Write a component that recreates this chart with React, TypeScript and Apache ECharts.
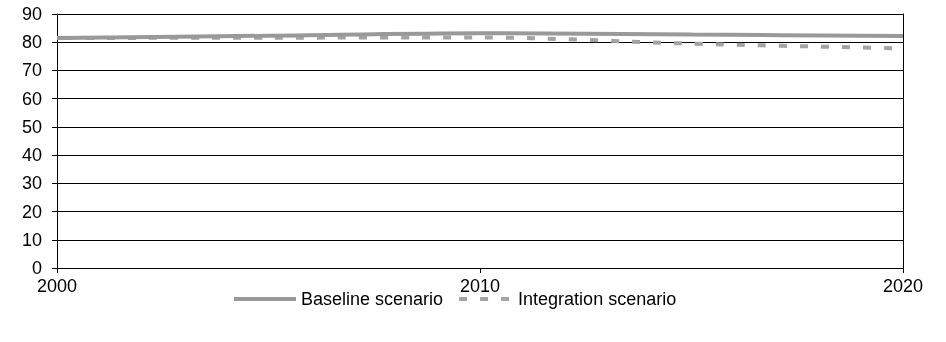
import React, { useEffect, useRef } from "react";
import * as echarts from "echarts";

const years = [2000, 2005, 2010, 2015, 2020];
const baselineValues = [81.5, 82.3, 83.2, 82.7, 82.2];
const integrationValues = [81.5, 81.6, 81.7, 79.5, 77.8];
const seriesNames = ["Baseline scenario", "Integration scenario"];

const FONT = "Liberation Sans, Arial, sans-serif";
const FS = 18;

export default function App() {
  const ref = useRef<HTMLDivElement>(null);
  useEffect(() => {
    if (!ref.current) return;
    const chart = echarts.init(ref.current, undefined, { renderer: "svg" });
    chart.setOption({
      animation: false,
      textStyle: { fontFamily: FONT },
      grid: { left: 57, right: 43, top: 14, bottom: 74 },
      legend: {
        bottom: 29,
        left: 227,
        itemWidth: 62,
        itemHeight: 14,
        itemGap: 6,
        itemStyle: { opacity: 0 },
        lineStyle: { width: 4 },
        textStyle: { fontFamily: FONT, fontSize: FS, color: "#000" },
        data: seriesNames,
      },
      xAxis: {
        type: "value",
        min: 2000,
        max: 2020,
        interval: 10,
        axisLine: { show: true, lineStyle: { color: "#000", width: 1 } },
        axisTick: { show: true, length: 5, lineStyle: { color: "#000" } },
        axisLabel: {
          fontFamily: FONT,
          fontSize: FS,
          lineHeight: 14,
          color: "#000",
          margin: 11,
          formatter: (v: number) => String(v),
        },
        splitLine: { show: false },
      },
      yAxis: [
        {
          type: "value",
          min: 0,
          max: 90,
          interval: 10,
          axisLine: { show: true, lineStyle: { color: "#000", width: 1 } },
          axisTick: { show: true, length: 5, lineStyle: { color: "#000" } },
          axisLabel: { fontFamily: FONT, fontSize: FS, lineHeight: 14, color: "#000", margin: 15 },
          splitLine: { show: true, lineStyle: { color: "#000", width: 1 } },
        },
        {
          type: "value",
          position: "right",
          min: 0,
          max: 90,
          interval: 10,
          axisLine: { show: true, lineStyle: { color: "#000", width: 1 } },
          axisTick: { show: false },
          axisLabel: { show: false },
          splitLine: { show: false },
        },
      ],
      series: [
        {
          name: seriesNames[0],
          type: "line",
          symbol: "none",
          smooth: 0.3,
          data: years.map((y, i) => [y, baselineValues[i]]),
          lineStyle: { color: "#999999", width: 4 },
          itemStyle: { color: "#999999" },
          z: 3,
        },
        {
          name: seriesNames[1],
          type: "line",
          symbol: "none",
          smooth: 0.3,
          data: years.map((y, i) => [y, integrationValues[i]]),
          lineStyle: { color: "#a3a3a3", width: 4, type: [8, 13], dashOffset: -8 },
          itemStyle: { color: "#a3a3a3" },
          z: 2,
        },
      ],
    });
    return () => chart.dispose();
  }, []);
  return (
    <div
      ref={ref}
      style={{ position: "fixed", left: 0, top: 0, width: 946, height: 342 }}
    />
  );
}
